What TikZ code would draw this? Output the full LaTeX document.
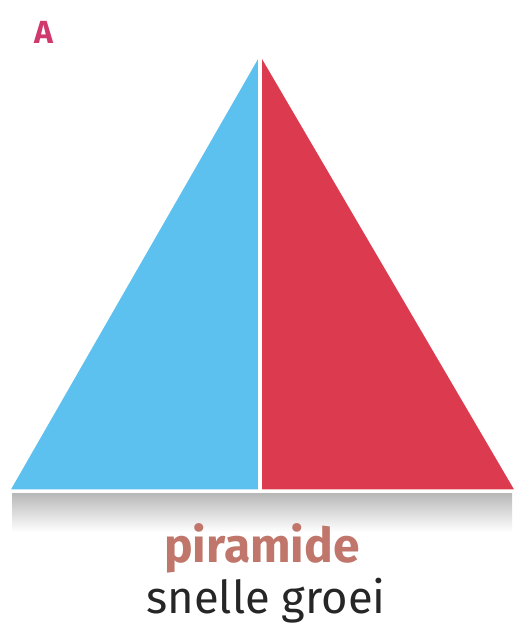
\documentclass[tikz,border=0pt]{standalone}
\usepackage{fontspec}
\setmainfont{Fira Sans}
\usetikzlibrary{positioning}
\definecolor{pyrblue}{HTML}{5CC1EE}
\definecolor{pyrred}{HTML}{DC3A4E}
\definecolor{letterpink}{HTML}{D0396E}
\definecolor{titlebrown}{HTML}{C0766A}

\begin{document}
\begin{tikzpicture}[x=0.75pt,y=-0.75pt]
  \useasboundingbox (0,0) rectangle (524,631);
  % corners of the pyramid
  \coordinate (top) at (260,52);
  \coordinate (bl) at (8,491);
  \coordinate (br) at (517,491);
  \coordinate (bm) at (260,491);
  % shadow under the base
  \shade[top color=black!28,bottom color=white] (12,493) rectangle (512,532);
  \fill[pyrblue] (top) -- (bl) -- (bm) -- cycle;
  \fill[pyrred] (top) -- (bm) -- (br) -- cycle;
  \draw[white,line width=2.5pt,line join=round] (top) -- (bl) -- (br) -- cycle;
  \draw[white,line width=3.5pt] (top) -- (bm);
  \node[letterpink,font=\bfseries\fontsize{24}{24}\selectfont] (label) at (44,32) {A};
  \node[titlebrown,font=\bfseries\fontsize{36}{36}\selectfont] (title) at (262,548) {piramide};
  \node[black!85,font=\fontsize{34}{34}\selectfont] (caption) at (266,601) {snelle groei};
\end{tikzpicture}
\end{document}
